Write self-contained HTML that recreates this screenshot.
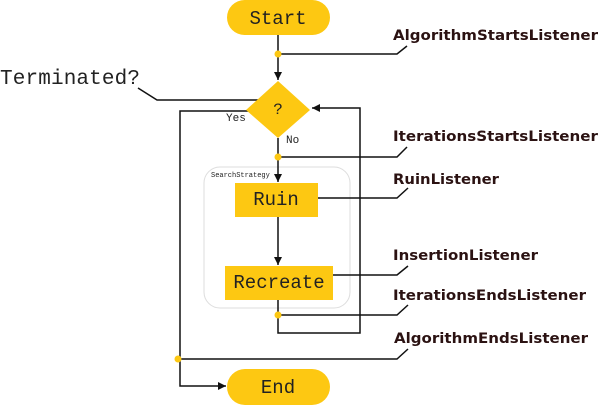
<!DOCTYPE html>
<html><head><meta charset="utf-8"><style>
html,body{margin:0;padding:0;background:#fff;}
svg{display:block;}
.mono{font-family:"Liberation Mono",monospace;fill:#222;}
.lab{font-family:"DejaVu Sans","Liberation Sans",sans-serif;font-weight:bold;font-size:14.5px;fill:#2b1212;}
</style></head><body>
<svg width="600" height="406" viewBox="0 0 600 406" xmlns="http://www.w3.org/2000/svg">
<defs><marker id="a" viewBox="0 0 10 10" refX="10" refY="5" markerWidth="8" markerHeight="8" orient="auto" markerUnits="userSpaceOnUse"><path d="M0,0 L10,5 L0,10 z" fill="#111"/></marker></defs>
<rect x="204" y="167" width="146" height="141" rx="16" fill="none" stroke="#ddd" stroke-width="1"/>
<text x="211" y="177" class="mono" font-size="7" fill="#555">SearchStrategy</text>
<g stroke="#111" stroke-width="1.5" fill="none">
<line x1="278" y1="35" x2="278" y2="80" marker-end="url(#a)"/>
<line x1="278" y1="138" x2="278" y2="182" marker-end="url(#a)"/>
<line x1="278" y1="217" x2="278" y2="265" marker-end="url(#a)"/>
<polyline points="278,300 278,333 360,333 360,108 312,108" marker-end="url(#a)"/>
<polyline points="250,111 180,111 180,386 226,386" marker-end="url(#a)"/>
<polyline points="138,88 157,100 258,100"/>
<polyline points="278,54 397,54 407,46"/>
<polyline points="278,157 397,157 407,147"/>
<polyline points="318,198 397,198 408,188"/>
<polyline points="333,275 397,275 408,266"/>
<polyline points="278,315 397,315 408,305"/>
<polyline points="178,359 397,359 408,349"/>
</g>
<rect x="227" y="0" width="103" height="35" rx="17.5" fill="#fdc812"/>
<text x="278" y="24" class="mono" font-size="19" text-anchor="middle">Start</text>
<rect x="227" y="369" width="103" height="36" rx="18" fill="#fdc812"/>
<text x="278" y="393" class="mono" font-size="19" text-anchor="middle">End</text>
<polygon points="278,81 310,110 278,138 246,110" fill="#fdc812"/>
<text x="278" y="114" class="mono" font-size="16" text-anchor="middle">?</text>
<rect x="235" y="183" width="83" height="34" fill="#fdc812"/>
<text x="276" y="205" class="mono" font-size="19" text-anchor="middle">Ruin</text>
<rect x="225" y="266" width="108" height="34" fill="#fdc812"/>
<text x="279" y="288" class="mono" font-size="19" text-anchor="middle">Recreate</text>
<g fill="#fdc812"><circle cx="278" cy="54" r="3.5"/><circle cx="278" cy="157" r="3.5"/><circle cx="278" cy="315" r="3.5"/><circle cx="178" cy="359" r="3.5"/></g>
<text x="226" y="121" class="mono" font-size="11">Yes</text>
<text x="286" y="143" class="mono" font-size="11">No</text>
<text x="0" y="84" class="mono" font-size="21" textLength="140">Terminated?</text>
<text x="393" y="40" class="lab" textLength="205" lengthAdjust="spacingAndGlyphs">AlgorithmStartsListener</text>
<text x="393" y="141" class="lab" textLength="205" lengthAdjust="spacingAndGlyphs">IterationsStartsListener</text>
<text x="393" y="184" class="lab" textLength="106" lengthAdjust="spacingAndGlyphs">RuinListener</text>
<text x="393" y="260" class="lab" textLength="145" lengthAdjust="spacingAndGlyphs">InsertionListener</text>
<text x="393" y="300" class="lab" textLength="193" lengthAdjust="spacingAndGlyphs">IterationsEndsListener</text>
<text x="394" y="343" class="lab" textLength="194" lengthAdjust="spacingAndGlyphs">AlgorithmEndsListener</text>
</svg>
</body></html>
